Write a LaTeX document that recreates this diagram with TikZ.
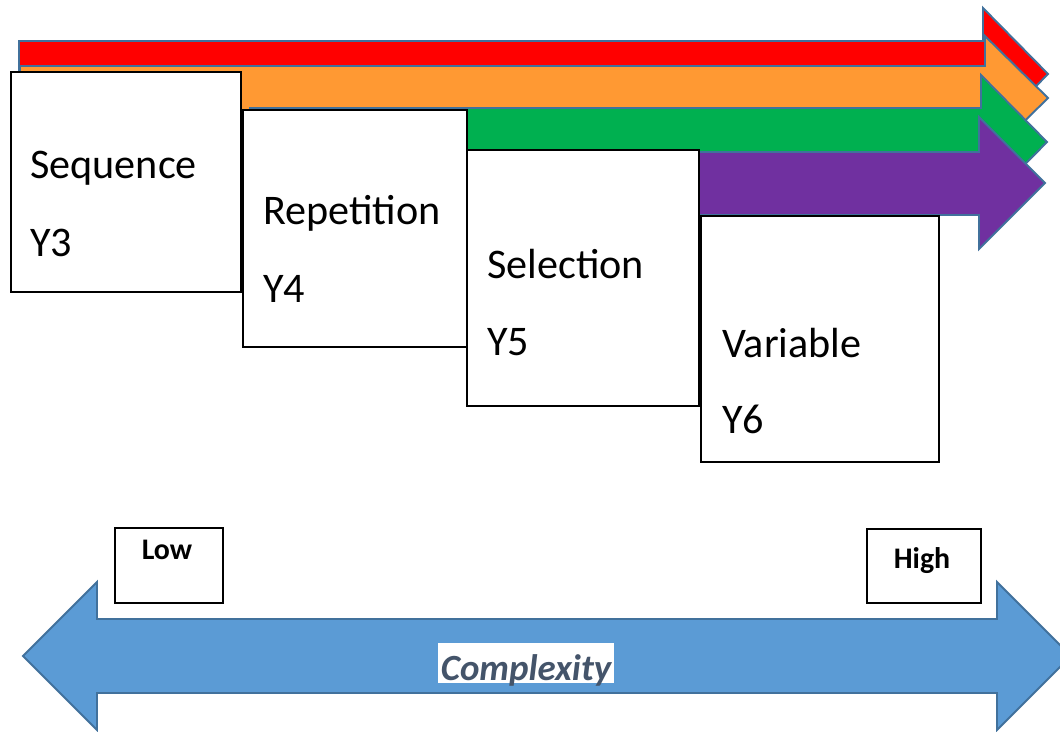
\documentclass[tikz,border=0pt]{standalone}
\usepackage{fontspec}
\setmainfont{Carlito}
\usepackage{xcolor}

\definecolor{barred}{HTML}{FF0000}
\definecolor{barorange}{HTML}{FF9933}
\definecolor{bargreen}{HTML}{00B050}
\definecolor{barpurple}{HTML}{7030A0}
\definecolor{arrowline}{HTML}{41719C}
\definecolor{arrowblue}{HTML}{5B9BD5}
\definecolor{slate}{HTML}{44546A}

\begin{document}
\begin{tikzpicture}[x=0.02cm, y=-0.02cm,
    bar/.style={draw=arrowline, line width=1.1pt, line join=miter},
    yearbox/.style={draw=black, line width=1.1pt, fill=white, anchor=north west, inner sep=0pt},
    yeartext/.style={anchor=base west, inner sep=0pt, font=\fontsize{24}{28}\selectfont},
    levelbox/.style={draw=black, line width=1.1pt, fill=white, anchor=north west, inner sep=0pt},
    leveltext/.style={anchor=base, inner sep=0pt, font=\fontsize{17}{20}\selectfont\bfseries}]
    \useasboundingbox (0,0) rectangle (1060,731);
    \clip (0,0) rectangle (1060,731);
    % topic arrows, back to front
    \draw[bar, fill=barred] (19,41) -- (983,41) -- (983,8) -- (1048,74) -- (983,140) -- (983,107) -- (19,107) -- cycle;
    \draw[bar, fill=barorange] (20,66) -- (985,66) -- (985,36) -- (1048,98) -- (985,160) -- (985,130) -- (20,130) -- cycle;
    \draw[bar, fill=bargreen] (250,108) -- (981,108) -- (981,75) -- (1047,142) -- (981,209) -- (981,176) -- (250,176) -- cycle;
    \draw[bar, fill=barpurple] (470,152) -- (979,152) -- (979,117) -- (1045,183) -- (979,249) -- (979,215) -- (470,215) -- cycle;
    % year boxes
    \node[yearbox, minimum width=4.6cm, minimum height=4.4cm] (seq) at (10,71) {};
    \node[yeartext] (seqname) at (30,178) {Sequence};
    \node[yeartext] (seqyear) at (30,256) {Y3};
    \node[yearbox, minimum width=4.48cm, minimum height=4.74cm] (rep) at (242,109) {};
    \node[yeartext] (repname) at (263,224) {Repetition};
    \node[yeartext] (repyear) at (263,302) {Y4};
    \node[yearbox, minimum width=4.64cm, minimum height=5.12cm] (sel) at (466,149) {};
    \node[yeartext] (selname) at (487,278) {Selection};
    \node[yeartext] (selyear) at (487,355) {Y5};
    \node[yearbox, minimum width=4.76cm, minimum height=4.92cm] (var) at (700,215) {};
    \node[yeartext] (varname) at (722,357) {Variable};
    \node[yeartext] (varyear) at (722,433) {Y6};
    % complexity scale
    \node[levelbox, minimum width=2.16cm, minimum height=1.5cm] (low) at (114,527) {};
    \node[leveltext] (lowtext) at (167,559) {Low};
    \node[levelbox, minimum width=2.28cm, minimum height=1.48cm] (high) at (866,528) {};
    \node[leveltext] (hightext) at (922,568) {High};
    \draw[draw=arrowline, line width=1.1pt, fill=arrowblue] (23,656) -- (97,582) -- (97,619) -- (997,619) -- (997,582) -- (1071,656) -- (997,730) -- (997,693) -- (97,693) -- (97,730) -- cycle;
    \node[fill=white, text=slate, anchor=base, inner xsep=1.5pt, inner ysep=0pt, text height=0.74cm, text depth=0.06cm, font=\fontsize{21}{24}\selectfont\bfseries\itshape] (cplx) at (526,680) {Complexity};
\end{tikzpicture}
\end{document}
